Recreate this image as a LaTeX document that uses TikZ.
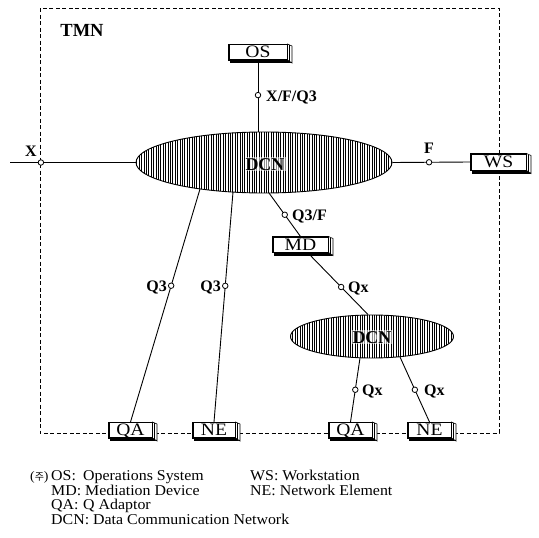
\documentclass[tikz,border=0pt]{standalone}
\usepackage{fontspec}
\setmainfont{Liberation Serif}
\newfontfamily\boxfont{Liberation Serif}[FakeStretch=1.12]
\newfontfamily\legfont{Liberation Serif}[FakeStretch=1.06]
\newfontfamily\krfont{Noto Sans CJK KR}
\usetikzlibrary{shapes.geometric,patterns.meta}
\newcommand\tdbox[6]{%
 \node[tbox, minimum width=#4pt, minimum height=#5pt] (#1) at (#2,#3) {#6};
 \fill ([xshift=1.5pt]#1.south west) rectangle ([xshift=4.5pt,yshift=-3pt]#1.south east);
 \filldraw[fill=white, line width=0.6pt] (#1.north east) -- ([xshift=4.5pt,yshift=-2pt]#1.north east) -- ([xshift=4.5pt,yshift=-3pt]#1.south east) -- (#1.south east) -- cycle;
 \draw[line width=0.6pt] ([xshift=2.2pt,yshift=-1pt]#1.north east) -- ([xshift=2.2pt,yshift=-2pt]#1.south east);
 \draw[line width=1pt] (#1.south west) rectangle (#1.north east);
}
\tikzset{
 tbox/.style={draw, fill=white, line width=1pt, inner sep=0pt, font=\boxfont\fontsize{17.5}{17.5}\selectfont, text height=11.5pt, text depth=0pt},
 conn/.style={line width=0.9pt},
 oc/.style={circle, draw, fill=white, inner sep=0pt, minimum size=5.5pt, line width=0.8pt},
 lab/.style={font=\bfseries\fontsize{16}{16}\selectfont, inner sep=0pt, text height=10.5pt, text depth=0pt},
 dcn/.style={ellipse, draw, line width=0.9pt, inner sep=0pt, preaction={fill=white}, pattern={Lines[angle=90,distance=2.4pt,line width=0.7pt]}},
 dcntext/.style={font=\bfseries\fontsize{18}{18}\selectfont, inner sep=1pt, fill=white, fill opacity=0.55, text opacity=1, text height=12pt, text depth=0pt},
 leg/.style={anchor=west, inner sep=0pt, font=\legfont\fontsize{15}{15}\selectfont, text height=10pt, text depth=0pt},
}
\begin{document}
\begin{tikzpicture}[x=1pt,y=-1pt]
\useasboundingbox (0,0) rectangle (539,538);
% TMN frame
\draw[dash pattern=on 4pt off 2.5pt, line width=0.8pt] (40,8) rectangle (499,433);
% DCN clouds
\node[dcn, minimum width=256pt, minimum height=61pt] (dcn1) at (264,162.5) {};
\node[dcn, minimum width=163pt, minimum height=43pt] (dcn2) at (372,336.5) {};
\node[dcntext] (t1) at (265,164) {DCN};
\node[dcntext] (t2) at (372,337) {DCN};
% boxes
\tdbox{os}{258}{52}{58}{15}{OS}
\tdbox{ws}{498.5}{162}{55}{16}{WS}
\tdbox{md}{300.5}{244.5}{55}{15}{MD}
\tdbox{qaa}{130.5}{430}{43}{15}{QA}
\tdbox{nea}{214}{430}{42}{15}{NE}
\tdbox{qab}{350.5}{430}{43}{15}{QA}
\tdbox{neb}{429.5}{430}{43}{15}{NE}
% connectors
\coordinate (xl) at (10,162.5);
\coordinate (d1a) at (200,189);
\coordinate (d1b) at (233,192);
\coordinate (d1c) at (269,193);
\coordinate (d2a) at (360,358);
\coordinate (d2b) at (400,357);
\draw[conn] (xl) -- node[oc,pos=0.246] (cx) {} (dcn1.west);
\draw[conn] (dcn1.east) -- node[oc,pos=0.47] (cf) {} (ws.west);
\draw[conn] (os.south) -- node[oc,pos=0.49] (cos) {} (os.south |- dcn1.north);
\draw[conn] (d1a) -- node[oc,pos=0.415] (c3a) {} (qaa.north);
\draw[conn] (d1b) -- node[oc,pos=0.408] (c3b) {} (nea.north);
\draw[conn] (d1c) -- node[oc,pos=0.5] (cqf) {} (md.north);
\draw[conn] ([xshift=7pt]md.south) -- node[oc,pos=0.556] (cqx) {} ([xshift=-4pt]dcn2.north);
\draw[conn] (d2a) -- node[oc,pos=0.496] (cxa) {} (qab.north);
\draw[conn] (d2b) -- node[oc,pos=0.504] (cxb) {} (neb.north);
% labels
\node[lab, font=\bfseries\fontsize{18.5}{18.5}\selectfont, text height=12pt] (ltmn) at (82,30) {TMN};
\node[lab] (lx) at (31,151) {X};
\node[lab] (lf) at (429,148) {F};
\node[lab, anchor=west] (lxfq) at (266,96) {X/F/Q3};
\node[lab, anchor=east] (lq3a) at (167,286) {Q3};
\node[lab, anchor=east] (lq3b) at (221,286) {Q3};
\node[lab, anchor=west] (lq3f) at (292,215) {Q3/F};
\node[lab, anchor=west] (lqxm) at (348,287) {Qx};
\node[lab, anchor=west] (lqxa) at (362,390) {Qx};
\node[lab, anchor=west] (lqxb) at (424,390) {Qx};
% legend
\node[leg, font=\legfont\fontsize{13}{13}\selectfont] (k0) at (30,475) {({\krfont\fontsize{10}{10}\selectfont 주})};
\node[leg] (k1) at (51,475) {\makebox[32pt][l]{OS:}Operations System};
\node[leg] (k2) at (250,475) {WS: Workstation};
\node[leg] (k3) at (51,490) {MD: Mediation Device};
\node[leg] (k4) at (250,490) {NE: Network Element};
\node[leg] (k5) at (51,504) {\makebox[32pt][l]{QA:}Q Adaptor};
\node[leg] (k6) at (51,519) {DCN: Data Communication Network};
\end{tikzpicture}
\end{document}
